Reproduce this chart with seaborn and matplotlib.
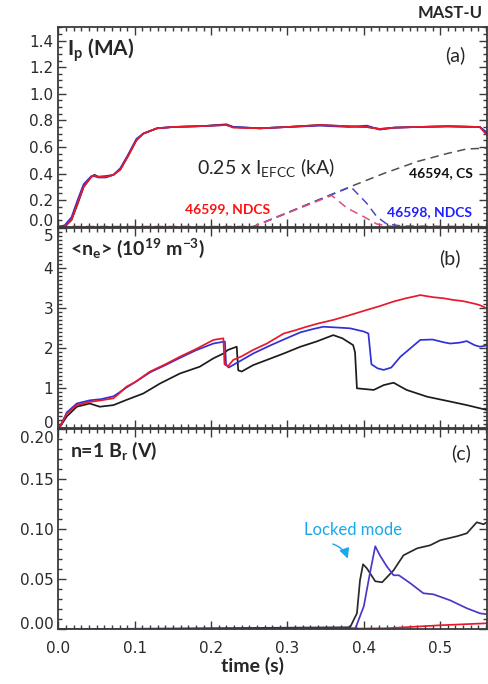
import numpy as np
import pandas as pd
import matplotlib
matplotlib.use("Agg")
import matplotlib.pyplot as plt
import seaborn as sns
from matplotlib.ticker import MultipleLocator
from matplotlib.transforms import ScaledTranslation

# ---------------- plasma current Ip (MA) ----------------
t_ip = [0.0, 0.008, 0.017, 0.025, 0.033, 0.043, 0.047, 0.052, 0.062, 0.072,
        0.081, 0.091, 0.102, 0.111, 0.129, 0.15, 0.19, 0.22, 0.229, 0.264,
        0.30, 0.343, 0.38, 0.404, 0.421, 0.44, 0.47, 0.51, 0.552, 0.561]
ip_46594 = [0.0, 0.0, 0.05, 0.17, 0.30, 0.375, 0.39, 0.376, 0.38, 0.39,
            0.43, 0.53, 0.65, 0.70, 0.74, 0.75, 0.757, 0.77, 0.75, 0.74,
            0.75, 0.765, 0.755, 0.75, 0.735, 0.745, 0.75, 0.755, 0.75, 0.70]
ip_46598 = [0.0, 0.01, 0.07, 0.20, 0.32, 0.38, 0.38, 0.37, 0.37, 0.39,
            0.44, 0.54, 0.66, 0.70, 0.74, 0.75, 0.757, 0.765, 0.75, 0.74,
            0.75, 0.76, 0.75, 0.76, 0.73, 0.745, 0.75, 0.755, 0.75, 0.71]
ip_46599 = [0.0, 0.0, 0.05, 0.18, 0.30, 0.375, 0.385, 0.375, 0.375, 0.39,
            0.43, 0.53, 0.65, 0.70, 0.74, 0.75, 0.757, 0.765, 0.745, 0.74,
            0.75, 0.765, 0.755, 0.75, 0.735, 0.745, 0.75, 0.755, 0.75, 0.69]

# ---------------- 0.25 x I_EFCC (kA) ----------------
t_efcc_94 = [0.0, 0.255, 0.30, 0.382, 0.426, 0.47, 0.509, 0.535, 0.56]
efcc_46594 = [0.0, 0.0, 0.105, 0.30, 0.40, 0.49, 0.55, 0.585, 0.59]
t_efcc_98 = [0.0, 0.255, 0.383, 0.404, 0.417, 0.43, 0.45, 0.56]
efcc_46598 = [0.0, 0.0, 0.30, 0.175, 0.075, 0.02, 0.005, 0.0]
t_efcc_99 = [0.0, 0.255, 0.358, 0.378, 0.40, 0.417, 0.44, 0.56]
efcc_46599 = [0.0, 0.0, 0.235, 0.14, 0.075, 0.02, 0.0, 0.0]

# ---------------- line-averaged density <ne> (1e19 m^-3) ----------------
t_ne_94 = [0.0, 0.002, 0.011, 0.024, 0.041, 0.054, 0.072, 0.089, 0.111, 0.133,
           0.159, 0.185, 0.203, 0.216, 0.222, 0.2335, 0.2355, 0.24, 0.255, 0.273,
           0.295, 0.317, 0.338, 0.36, 0.372, 0.386, 0.3885, 0.391, 0.413, 0.426,
           0.439, 0.456, 0.483, 0.513, 0.535, 0.561]
ne_46594 = [0.0, 0.04, 0.30, 0.54, 0.62, 0.54, 0.58, 0.71, 0.87, 1.12,
            1.37, 1.54, 1.75, 1.87, 1.96, 2.04, 1.45, 1.42, 1.58, 1.71,
            1.87, 2.04, 2.17, 2.33, 2.25, 2.08, 1.90, 1.00, 0.96, 1.08,
            1.14, 0.96, 0.79, 0.67, 0.58, 0.46]
t_ne_98 = [0.0, 0.002, 0.011, 0.024, 0.041, 0.056, 0.072, 0.08, 0.089, 0.10,
           0.12, 0.14, 0.159, 0.18, 0.203, 0.218, 0.2195, 0.223, 0.235, 0.255,
           0.275, 0.295, 0.317, 0.333, 0.347, 0.365, 0.382, 0.40, 0.406, 0.41,
           0.418, 0.426, 0.436, 0.448, 0.461, 0.474, 0.49, 0.505, 0.513, 0.525,
           0.535, 0.545, 0.552, 0.561]
ne_46598 = [0.0, 0.05, 0.40, 0.62, 0.70, 0.73, 0.80, 0.90, 1.02, 1.15,
            1.40, 1.58, 1.76, 1.95, 2.12, 2.17, 1.60, 1.52, 1.65, 1.87,
            2.05, 2.22, 2.40, 2.48, 2.54, 2.52, 2.50, 2.42, 2.37, 1.60,
            1.50, 1.46, 1.52, 1.79, 2.00, 2.21, 2.22, 2.15, 2.12, 2.14,
            2.18, 2.08, 2.04, 2.07]
t_ne_99 = [0.0, 0.002, 0.011, 0.024, 0.041, 0.056, 0.072, 0.08, 0.089, 0.10,
           0.12, 0.14, 0.159, 0.18, 0.203, 0.216, 0.2175, 0.222, 0.229, 0.24,
           0.255, 0.273, 0.295, 0.31, 0.325, 0.34, 0.36, 0.38, 0.404, 0.42,
           0.439, 0.455, 0.474, 0.49, 0.505, 0.517, 0.53, 0.544, 0.552, 0.561]
ne_46599 = [0.0, 0.04, 0.37, 0.58, 0.66, 0.70, 0.75, 0.88, 1.04, 1.15,
            1.42, 1.60, 1.79, 1.98, 2.21, 2.25, 1.60, 1.55, 1.71, 1.80,
            1.96, 2.12, 2.37, 2.45, 2.54, 2.62, 2.71, 2.82, 2.96, 3.05,
            3.17, 3.25, 3.33, 3.28, 3.25, 3.21, 3.18, 3.12, 3.08, 3.00]

# ---------------- n=1 radial field signal Br (V) ----------------
t_br_94 = [0.0, 0.382, 0.391, 0.395, 0.399, 0.404, 0.415, 0.424, 0.439, 0.452,
           0.47, 0.487, 0.50, 0.522, 0.535, 0.548, 0.557, 0.561]
br_46594 = [0.0, 0.002, 0.016, 0.049, 0.065, 0.061, 0.048, 0.047, 0.059, 0.074,
            0.081, 0.084, 0.089, 0.093, 0.096, 0.107, 0.105, 0.107]
t_br_98 = [0.0, 0.389, 0.40, 0.408, 0.415, 0.421, 0.43, 0.439, 0.446, 0.461,
           0.478, 0.491, 0.513, 0.535, 0.552, 0.561]
br_46598 = [0.0, 0.001, 0.023, 0.056, 0.083, 0.074, 0.063, 0.054, 0.054, 0.046,
            0.036, 0.035, 0.029, 0.021, 0.016, 0.015]
t_br_99 = [0.30, 0.43, 0.50, 0.561]
br_46599 = [0.0, 0.001, 0.004, 0.006]

# ---------------- axis ticks ----------------
x_ticks = [0.0, 0.1, 0.2, 0.3, 0.4, 0.5]
x_ticklabels = ["0.0", "0.1", "0.2", "0.3", "0.4", "0.5"]
ip_ticks = [0.0, 0.2, 0.4, 0.6, 0.8, 1.0, 1.2, 1.4]
ip_ticklabels = ["0.0", "0.2", "0.4", "0.6", "0.8", "1.0", "1.2", "1.4"]
ne_ticks = [0, 1, 2, 3, 4, 5]
ne_ticklabels = ["0", "1", "2", "3", "4", "5"]
br_ticks = [0.0, 0.05, 0.10, 0.15, 0.20]
br_ticklabels = ["0.00", "0.05", "0.10", "0.15", "0.20"]

C_BLACK = "#1c1c1c"
C_BLUE = "#3030d8"
C_RED = "#e8192c"
FRAME = "#3a3a3a"

sns.set_theme(style="ticks")
plt.rcParams.update({
    "font.family": ["DejaVu Sans"],
    "mathtext.fontset": "custom",
    "mathtext.rm": "Lato",
    "mathtext.bf": "Lato:bold",
    "mathtext.it": "Lato:italic",
    "axes.edgecolor": FRAME,
    "axes.linewidth": 1.2,
    "axes.facecolor": "white",
    "figure.facecolor": "white",
})
TXT = ["Lato", "DejaVu Sans"]

fig = plt.figure(figsize=(4.89, 6.84), dpi=100)
ax_a = fig.add_axes([0.1196, 0.6686, 0.8757, 0.2915])
ax_b = fig.add_axes([0.1196, 0.3738, 0.8757, 0.2924])
ax_c = fig.add_axes([0.1196, 0.0800, 0.8757, 0.2924])


def trace(ax, t, y, color, lw=1.25, ls="-"):
    df = pd.DataFrame({"time": t, "value": y})
    sns.lineplot(data=df, x="time", y="value", ax=ax, color=color, lw=lw,
                 linestyle=ls, estimator=None, sort=False, legend=False)


# (a) Ip and EFCC currents
dash = (0, (5.5, 3.5))
trace(ax_a, t_efcc_94, efcc_46594, "#505050", lw=1.1, ls=dash)
trace(ax_a, t_efcc_98, efcc_46598, "#4a4ad0", lw=1.1, ls=dash)
trace(ax_a, t_efcc_99, efcc_46599, "#e05075", lw=1.1, ls=dash)
trace(ax_a, t_ip, ip_46594, C_BLACK)
trace(ax_a, t_ip, ip_46598, C_BLUE)
trace(ax_a, t_ip, ip_46599, C_RED)

# (b) density
trace(ax_b, t_ne_94, ne_46594, C_BLACK)
trace(ax_b, t_ne_98, ne_46598, C_BLUE)
trace(ax_b, t_ne_99, ne_46599, C_RED)

# (c) n=1 Br
trace(ax_c, t_br_99, br_46599, C_RED)
trace(ax_c, t_br_94, br_46594, "#2a2a2a")
trace(ax_c, t_br_98, br_46598, "#4a38c8")

panels = [
    (ax_a, (0.0, 1.5), ip_ticks, ip_ticklabels, 0.05),
    (ax_b, (0.0, 5.0), ne_ticks, ne_ticklabels, 0.1),
    (ax_c, (0.0, 0.2), br_ticks, br_ticklabels, 0.01),
]
for ax, ylim, yt, ytl, yminor in panels:
    ax.set_xlim(0.0, 0.561)
    ax.set_ylim(*ylim)
    ax.set(xlabel="", ylabel="")
    ax.set_xticks(x_ticks)
    ax.set_yticks(yt)
    ax.set_yticklabels(ytl)
    ax.xaxis.set_minor_locator(MultipleLocator(0.01))
    ax.yaxis.set_minor_locator(MultipleLocator(yminor))
    ax.tick_params(which="both", direction="in", top=True, right=True,
                   color=FRAME, width=1.0)
    ax.tick_params(which="major", length=6)
    ax.tick_params(which="minor", length=3)
    ax.tick_params(axis="y", labelsize=11, pad=3.7, labelcolor="#2a2a2a")
    for sp in ax.spines.values():
        sp.set_color(FRAME)
        sp.set_linewidth(1.3)
    if ax is not ax_c:
        ax.set_xticklabels([])

ax_c.set_xticklabels(x_ticklabels)
ax_c.tick_params(axis="x", labelsize=11, pad=8.6, labelcolor="#2a2a2a")


def nudge(ax, label_text, dy_pt):
    for tick in ax.yaxis.get_major_ticks():
        if tick.label1.get_text() == label_text:
            tick.label1.set_transform(tick.label1.get_transform() +
                                      ScaledTranslation(0, dy_pt / 72, fig.dpi_scale_trans))


# edge labels pushed inward so neighbouring panels do not collide
nudge(ax_a, "0.0", 4.8)
nudge(ax_b, "0", 4.8)
nudge(ax_b, "5", -4.8)
nudge(ax_c, "0.00", 4.8)
nudge(ax_c, "0.20", -5.3)

# panel titles and annotations
ax_a.text(0.011, 1.33, r"I$_\mathbf{p}$ (MA)", fontsize=15, fontweight="bold",
          family=TXT, ha="left", va="center")
ax_a.text(0.52, 1.29, "(a)", fontsize=14, family=TXT, ha="center", va="center")
ax_a.text(0.272, 0.445, r"0.25 x I$_\mathrm{EFCC}$ (kA)", fontsize=14, family=TXT,
          ha="center", va="center")
ax_a.text(0.543, 0.40, "46594, CS", fontsize=10, fontweight="bold", family=TXT,
          color="#111111", ha="right", va="center")
ax_a.text(0.222, 0.13, "46599, NDCS", fontsize=10, fontweight="bold", family=TXT,
          color="#ff1010", ha="center", va="center")
ax_a.text(0.486, 0.113, "46598, NDCS", fontsize=10, fontweight="bold", family=TXT,
          color="#2020ff", ha="center", va="center")

ax_b.text(0.015, 4.5, r"<n$_\mathbf{e}$> (10$^\mathbf{19}$ m$^\mathbf{-3}$)", fontsize=14,
          fontweight="bold", family=TXT, ha="left", va="center")
ax_b.text(0.513, 4.25, "(b)", fontsize=14, family=TXT, ha="center", va="center")

ax_c.text(0.015, 0.178, r"n=1 B$_\mathbf{r}$ (V)", fontsize=14, fontweight="bold",
          family=TXT, ha="left", va="center")
ax_c.text(0.528, 0.176, "(c)", fontsize=14, family=TXT, ha="center", va="center")
ax_c.text(0.386, 0.099, "Locked mode", fontsize=12, family=TXT, color="#1aa8e8",
          ha="center", va="center")
ax_c.annotate("", xy=(0.380, 0.068), xytext=(0.356, 0.086),
              arrowprops=dict(arrowstyle="-|>,head_length=0.5,head_width=0.25",
                              color="#1aa8e8", lw=1.0,
                              connectionstyle="arc3,rad=-0.3"))

ax_c.set_xlabel("time (s)", fontsize=14, fontweight="bold", family=TXT)
ax_c.xaxis.set_label_coords(0.453, -0.14)

fig.text(483 / 489, 1 - 13.5 / 684, "MAST-U", fontsize=12, fontweight="bold",
         family=TXT, ha="right", va="center")

fig.savefig("out.png", dpi=100)
